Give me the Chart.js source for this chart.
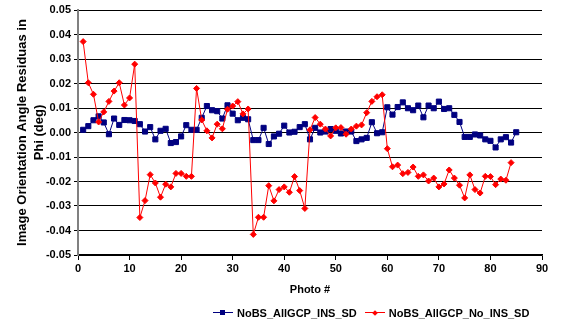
<!DOCTYPE html>
<html>
<head>
<meta charset="utf-8">
<script src="https://cdn.jsdelivr.net/npm/chart.js"></script>
<style>
  body { margin: 0; background: #fff; }
  #wrap { position: relative; width: 569px; height: 325px; }
  #legend { position: absolute; left: 213px; top: 306px; height: 13px; display: flex; align-items: center;
            font: bold 11px "Liberation Sans", Arial, sans-serif; color: #000; white-space: nowrap; }
  .key { position: relative; display: inline-block; width: 20px; height: 11px; margin-right: 4px; }
  .key .ln { position: absolute; left: 0; right: 0; top: 5px; height: 1px; }
  .key .mk { position: absolute; left: 7px; top: 3px; width: 5px; height: 5px; }
  .key .mk.dia { transform: rotate(45deg); width: 4px; height: 4px; left: 8px; top: 3.5px; }
  .gap { display: inline-block; width: 8px; }
</style>
</head>
<body>
<div id="wrap">
  <canvas id="chart" width="569" height="325"></canvas>
  <div id="legend">
    <span class="key"><span class="ln" style="background:#000080"></span><span class="mk" style="background:#000080"></span></span>
    <span>NoBS_AllGCP_INS_SD</span>
    <span class="gap"></span>
    <span class="key"><span class="ln" style="background:#ff0000"></span><span class="mk dia" style="background:#ff0000"></span></span>
    <span>NoBS_AllGCP_No_INS_SD</span>
  </div>
</div>
<script>
const photoNo = [1, 2, 3, 4, 5, 6, 7, 8, 9, 10, 11, 12, 13, 14, 15, 16, 17, 18, 19, 20,
  21, 22, 23, 24, 25, 26, 27, 28, 29, 30, 31, 32, 33, 34, 35, 36, 37, 38, 39, 40,
  41, 42, 43, 44, 45, 46, 47, 48, 49, 50, 51, 52, 53, 54, 55, 56, 57, 58, 59, 60,
  61, 62, 63, 64, 65, 66, 67, 68, 69, 70, 71, 72, 73, 74, 75, 76, 77, 78, 79, 80,
  81, 82, 83, 84, 85];

// NoBS_AllGCP_INS_SD
const insSD = [0.0011, 0.0026, 0.0050, 0.0066, 0.0041, -0.0007, 0.0057, 0.0031, 0.0051, 0.0050,
  0.0047, 0.0034, 0.0004, 0.0022, -0.0028, 0.0007, 0.0015, -0.0043, -0.0039, -0.0016,
  0.0030, 0.0011, 0.0011, 0.0060, 0.0108, 0.0091, 0.0087, 0.0057, 0.0111, 0.0077,
  0.0050, 0.0060, 0.0054, -0.0031, -0.0031, 0.0019, -0.0047, -0.0016, -0.0005, 0.0028,
  0.0000, 0.0003, 0.0022, 0.0034, -0.0028, 0.0019, 0.0000, 0.0004, 0.0014, 0.0007,
  -0.0004, 0.0004, 0.0004, -0.0035, -0.0028, -0.0022, 0.0042, -0.0003, 0.0001, 0.0103,
  0.0073, 0.0104, 0.0123, 0.0099, 0.0091, 0.0110, 0.0062, 0.0110, 0.0099, 0.0126,
  0.0096, 0.0099, 0.0072, 0.0043, -0.0018, -0.0018, -0.0008, -0.0012, -0.0028, -0.0034,
  -0.0061, -0.0028, -0.0019, -0.0041, 0.0001];

// NoBS_AllGCP_No_INS_SD
const noInsSD = [0.0371, 0.0203, 0.0156, 0.0043, 0.0084, 0.0127, 0.0169, 0.0203, 0.0112, 0.0141,
  0.0279, -0.0347, -0.0278, -0.0172, -0.0206, -0.0264, -0.0211, -0.0222, -0.0167, -0.0167,
  -0.0179, -0.0179, 0.0180, 0.0051, 0.0007, -0.0022, 0.0034, 0.0015, 0.0095, 0.0108,
  0.0126, 0.0076, 0.0096, -0.0416, -0.0346, -0.0346, -0.0217, -0.0279, -0.0233, -0.0222,
  -0.0244, -0.0180, -0.0237, -0.0310, 0.0011, 0.0061, 0.0034, 0.0014, -0.0014, 0.0019,
  0.0020, -0.0007, 0.0014, 0.0026, 0.0031, 0.0081, 0.0127, 0.0146, 0.0154, -0.0066,
  -0.0140, -0.0133, -0.0168, -0.0163, -0.0141, -0.0179, -0.0173, -0.0198, -0.0186, -0.0222,
  -0.0210, -0.0153, -0.0186, -0.0215, -0.0267, -0.0173, -0.0233, -0.0247, -0.0179, -0.0180,
  -0.0213, -0.0190, -0.0195, -0.0123];

const xTicks = [0, 10, 20, 30, 40, 50, 60, 70, 80, 90];
const yTicks = [-0.05, -0.04, -0.03, -0.02, -0.01, 0, 0.01, 0.02, 0.03, 0.04, 0.05];

const fontFam = '"Liberation Sans", Arial, sans-serif';

new Chart(document.getElementById('chart'), {
  type: 'line',
  data: {
    datasets: [{
      label: 'NoBS_AllGCP_INS_SD',
      data: insSD.map((v, i) => ({ x: photoNo[i], y: v })),
      borderColor: '#000080',
      backgroundColor: '#000080',
      borderWidth: 1,
      pointStyle: 'rect',
      pointRadius: 3.6,
      pointBorderWidth: 1,
      order: 1
    }, {
      label: 'NoBS_AllGCP_No_INS_SD',
      data: noInsSD.map((v, i) => ({ x: photoNo[i], y: v })),
      borderColor: '#ff0000',
      backgroundColor: '#ff0000',
      borderWidth: 1,
      pointStyle: 'rectRot',
      pointRadius: 3,
      pointBorderWidth: 1,
      order: 0
    }]
  },
  options: {
    responsive: false,
    animation: false,
    layout: { padding: { top: 10, right: 27, bottom: 27, left: 0 } },
    plugins: { legend: { display: false }, tooltip: { enabled: false } },
    scales: {
      x: {
        type: 'linear',
        min: 0,
        max: 90,
        afterBuildTicks: s => { s.ticks = xTicks.map(v => ({ value: v })); },
        afterFit: s => { s.height = 43; },
        ticks: { color: '#000', font: { family: fontFam, size: 11, weight: 'bold' }, padding: 2, maxRotation: 0 },
        grid: { drawOnChartArea: false, drawTicks: true, tickLength: 5, color: '#000' },
        border: { color: '#000', width: 1.5 },
        title: { display: true, text: 'Photo #', color: '#000',
                 font: { family: fontFam, size: 11, weight: 'bold' }, padding: { top: 4, bottom: 1 } }
      },
      y: {
        min: -0.05,
        max: 0.05,
        afterBuildTicks: s => { s.ticks = yTicks.map(v => ({ value: v })); },
        afterFit: s => { s.width = 78; },
        ticks: { color: '#000', font: { family: fontFam, size: 11, weight: 'bold' }, padding: 3,
                 callback: v => v.toFixed(2) },
        grid: { color: '#000', tickLength: 4 },
        border: { color: '#808080', width: 2 },
        title: { display: true, text: ['Image Orientation Angle Residuas in', 'Phi (deg)'], color: '#000',
                 font: { family: fontFam, size: 13, weight: 'bold', lineHeight: 1.3 }, padding: { top: 14 } }
      }
    }
  }
});
</script>
</body>
</html>
